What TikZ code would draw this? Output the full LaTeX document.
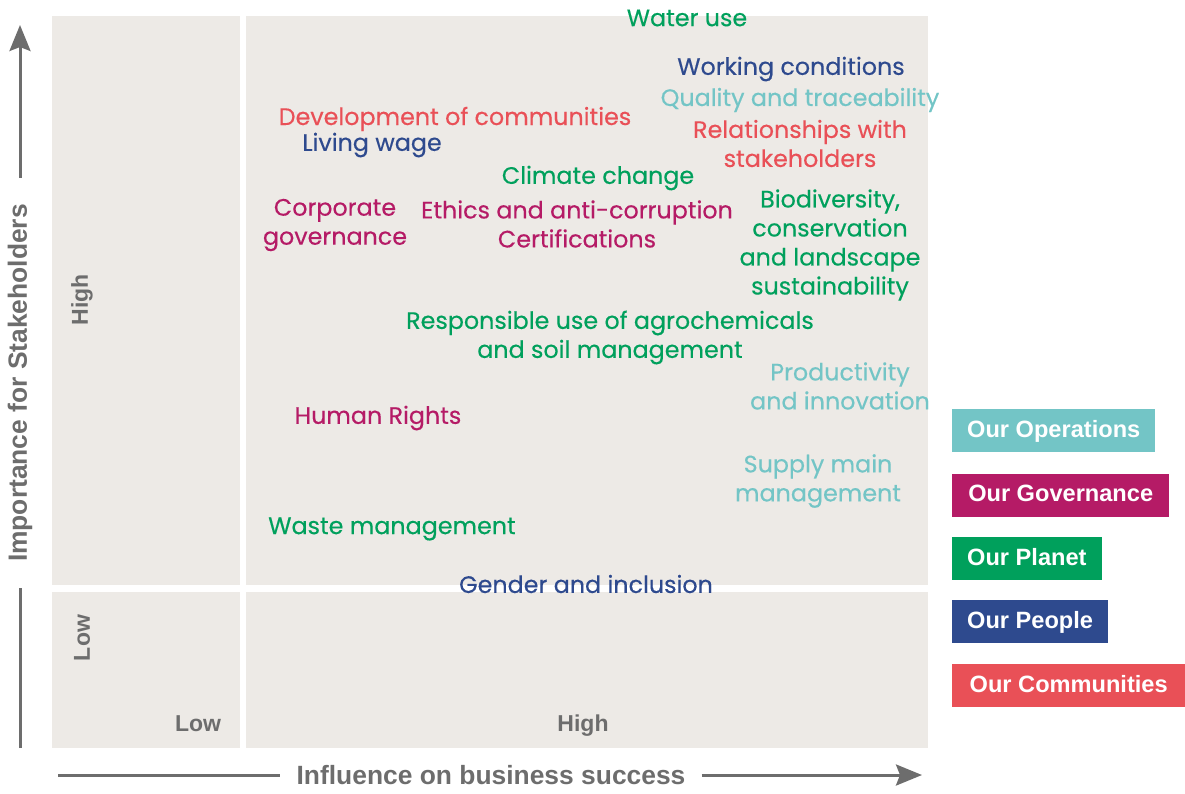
\documentclass[tikz,border=0pt]{standalone}
\usepackage{fontspec}
\setmainfont{Liberation Sans}
\newfontfamily\topicfont[FakeBold=0.3]{Poppins}
\usetikzlibrary{arrows.meta,positioning}

\definecolor{panel}{HTML}{EDEAE6}
\definecolor{axisgray}{HTML}{6D6D6D}
\definecolor{planet}{HTML}{00A05C}
\definecolor{people}{HTML}{2E4A8E}
\definecolor{operations}{HTML}{73C5C6}
\definecolor{governance}{HTML}{B51B66}
\definecolor{communities}{HTML}{E95057}

\tikzset{
  quadrant/.style={fill=panel, draw=none},
  topic/.style={font=\topicfont\fontsize{23.8}{29}\selectfont, align=center, inner sep=0pt, yshift=-2pt},
  levellabel/.style={font=\bfseries\fontsize{23}{26}\selectfont, text=axisgray, inner sep=0pt},
  axisname/.style={font=\bfseries\fontsize{26.4}{30}\selectfont, text=axisgray, inner ysep=0pt},
  axisline/.style={draw=axisgray, line width=3pt},
  legendbox/.style={font=\bfseries\fontsize{23.6}{27}\selectfont, text=white, anchor=west,
    minimum height=43pt, inner xsep=15pt, text height=17pt, text depth=4pt},
}

\begin{document}
\begin{tikzpicture}[x=1pt,y=-1pt]
  \useasboundingbox (0,0) rectangle (1185,793);

  % the four quadrants
  \fill[quadrant] (52,16) rectangle (240,585);
  \fill[quadrant] (246,16) rectangle (928,585);
  \fill[quadrant] (52,592) rectangle (240,748);
  \fill[quadrant] (246,592) rectangle (928,748);

  % level labels
  \node[levellabel, rotate=90] (yhigh) at (82,300) {High};
  \node[levellabel, rotate=90] (ylow) at (82,638) {Low};
  \node[levellabel] (xlow) at (198,724) {Low};
  \node[levellabel] (xhigh) at (583,726) {High};

  % vertical axis
  \coordinate (ytail) at (20,748);
  \coordinate (ytip) at (20,25);
  \node[axisname, rotate=90, inner xsep=26pt] (yname) at (20,383) {Importance for Stakeholders};
  \draw[axisline] (ytail) -- (yname.west);
  \draw[axisline, -{Stealth[length=26pt,width=21pt,inset=4pt]}] (yname.east) -- (ytip);

  % horizontal axis
  \coordinate (xtail) at (58,775);
  \coordinate (xtip) at (922,775);
  \node[axisname, inner xsep=16pt] (xname) at (491,775) {Influence on business success};
  \draw[axisline] (xtail) -- (xname.west);
  \draw[axisline, -{Stealth[length=26pt,width=21pt,inset=4pt]}] (xname.east) -- (xtip);

  % material topics
  \foreach \n/\c/\x/\y/\t in {
      water/planet/687/16/{Water use},
      working/people/791/67/{Working conditions},
      quality/operations/800/98/{Quality and traceability},
      relations/communities/800/141.5/{Relationships with\\stakeholders},
      development/communities/455/117/{Development of communities},
      living/people/372/143/{Living wage},
      climate/planet/598/176/{Climate change},
      corporate/governance/335/223/{Corporate\\governance},
      ethics/governance/577/222/{Ethics and anti-corruption\\Certifications},
      biodiversity/planet/830/243/{Biodiversity,\\conservation\\and landscape\\sustainability},
      agro/planet/610/335.5/{Responsible use of agrochemicals\\and soil management},
      productivity/operations/840/384/{Productivity\\and innovation},
      human/governance/378/416/{Human Rights},
      supply/operations/818/479/{Supply main\\management},
      waste/planet/392/527/{Waste management},
      gender/people/586/582/{Gender and inclusion}} {
    \node[topic, text=\c] (\n) at (\x,\y) {\t};
  }

  % legend
  \foreach \n/\c/\y/\w/\t in {
      operations/operations/430.5/201/{Our Operations},
      governance/governance/495/217/{Our Governance},
      planet/planet/558.5/149/{Our Planet},
      people/people/621.5/155/{Our People},
      communities/communities/685.5/233/{Our Communities}} {
    \node[legendbox, fill=\c, minimum width=\w pt] (leg-\n) at (952,\y) {\t};
  }
\end{tikzpicture}
\end{document}
